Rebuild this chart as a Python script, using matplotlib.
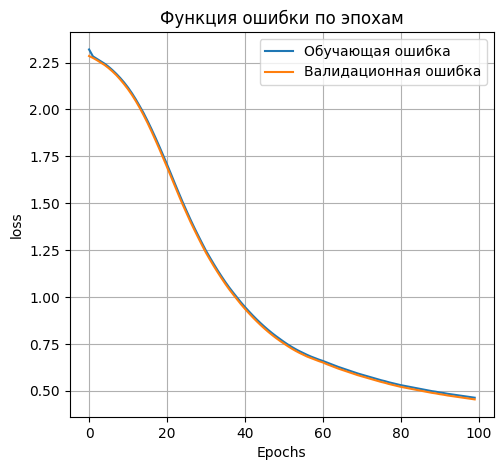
import matplotlib.pyplot as plt

epochs = list(range(100))

train_loss = [
    2.320, 2.283, 2.270, 2.257, 2.244, 2.228, 2.210, 2.190, 2.168, 2.144,
    2.117, 2.087, 2.054, 2.018, 1.981, 1.940, 1.897, 1.852, 1.805, 1.757,
    1.708, 1.658, 1.607, 1.557, 1.508, 1.461, 1.415, 1.371, 1.329, 1.288,
    1.248, 1.212, 1.177, 1.143, 1.111, 1.080, 1.051, 1.024, 0.998, 0.972,
    0.948, 0.925, 0.903, 0.882, 0.862, 0.843, 0.825, 0.808, 0.792, 0.777,
    0.762, 0.748, 0.735, 0.723, 0.712, 0.702, 0.692, 0.683, 0.675, 0.667,
    0.660, 0.652, 0.644, 0.636, 0.628, 0.621, 0.614, 0.607, 0.600, 0.593,
    0.587, 0.581, 0.575, 0.569, 0.563, 0.557, 0.552, 0.546, 0.541, 0.536,
    0.531, 0.527, 0.523, 0.519, 0.515, 0.511, 0.507, 0.503, 0.499, 0.496,
    0.492, 0.489, 0.485, 0.482, 0.479, 0.476, 0.473, 0.470, 0.467, 0.464,
]

val_loss = [
    2.285, 2.275, 2.263, 2.250, 2.237, 2.221, 2.203, 2.183, 2.160, 2.135,
    2.108, 2.078, 2.045, 2.009, 1.970, 1.929, 1.885, 1.839, 1.792, 1.743,
    1.694, 1.644, 1.594, 1.544, 1.495, 1.449, 1.403, 1.360, 1.318, 1.277,
    1.237, 1.201, 1.166, 1.133, 1.101, 1.070, 1.041, 1.014, 0.988, 0.962,
    0.938, 0.915, 0.893, 0.872, 0.852, 0.833, 0.815, 0.798, 0.782, 0.767,
    0.753, 0.739, 0.726, 0.714, 0.703, 0.693, 0.683, 0.675, 0.667, 0.659,
    0.652, 0.643, 0.635, 0.627, 0.619, 0.612, 0.605, 0.598, 0.591, 0.584,
    0.578, 0.572, 0.566, 0.560, 0.554, 0.548, 0.543, 0.537, 0.532, 0.527,
    0.522, 0.518, 0.514, 0.510, 0.506, 0.502, 0.498, 0.494, 0.490, 0.487,
    0.483, 0.480, 0.476, 0.473, 0.470, 0.467, 0.464, 0.461, 0.458, 0.455,
]

fig = plt.figure(figsize=(5.02, 4.70), dpi=100)
ax = fig.add_axes([0.139, 0.113, 0.845, 0.819])
ax.plot(epochs, train_loss, label='Обучающая ошибка')
ax.plot(epochs, val_loss, label='Валидационная ошибка')
ax.set_title('Функция ошибки по эпохам')
ax.set_xlabel('Epochs')
ax.set_ylabel('loss')
ax.legend(loc='upper right')
ax.grid(True)
fig.savefig('out.png', dpi=100)
